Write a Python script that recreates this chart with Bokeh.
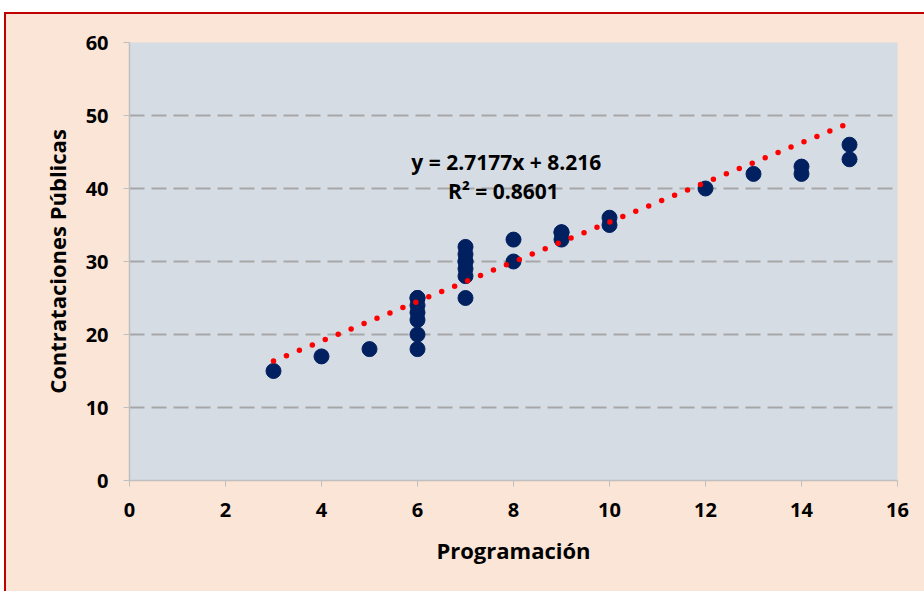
import numpy as np
from bokeh.plotting import figure
from bokeh.models import ColumnDataSource, Label, FixedTicker
from bokeh.embed import file_html
from bokeh.resources import INLINE

# Data
programacion = [3, 4, 5, 6, 6, 6, 6, 6, 6, 6, 7, 7, 7, 7, 7, 7, 7,
                8, 8, 9, 9, 9, 10, 10, 12, 13, 14, 14, 15, 15]
contrataciones = [15, 17, 18, 25, 25, 24, 23, 22, 20, 18, 32, 31, 30, 30, 29, 28, 25,
                  33, 30, 34, 34, 33, 36, 35, 40, 42, 43, 42, 46, 44]
slope = 2.7177
intercept = 8.216
r2 = 0.8601
x_ticks = [0, 2, 4, 6, 8, 10, 12, 14, 16]
y_ticks = [0, 10, 20, 30, 40, 50, 60]

FONT = "Open Sans"
PEACH = "#FBE5D6"
FRAME = "#D6DCE4"
RED = "#C00000"

p = figure(width=924, height=591, output_backend="svg", toolbar_location=None,
           x_range=(0, 16), y_range=(0, 60),
           min_border_left=129, min_border_right=27, min_border_top=42, min_border_bottom=111)
p.border_fill_color = None
p.background_fill_color = FRAME
p.outline_line_color = None
# chart area (peach with red border) offset inside a white page
p.styles = {
    "background": (f"linear-gradient({RED},{RED}) 5px 12px / 100% 2px no-repeat, "
                   f"linear-gradient({RED},{RED}) 4px 12px / 2px 100% no-repeat, "
                   f"linear-gradient({PEACH},{PEACH}) 6px 14px / 100% 100% no-repeat, "
                   "white"),
}

# grid
p.xgrid.grid_line_color = None
p.ygrid.grid_line_color = "#A6A6A6"
p.ygrid.grid_line_width = 2
p.ygrid.grid_line_dash = "15 7"
p.ygrid.ticker = FixedTicker(ticks=y_ticks[1:])

for ax, ticks in ((p.xaxis, x_ticks), (p.yaxis, y_ticks)):
    ax.ticker = FixedTicker(ticks=ticks)
    ax.axis_line_color = "#BFBFBF"
    ax.axis_line_width = 1.5
    ax.major_tick_line_color = "#BFBFBF"
    ax.major_tick_in = 0
    ax.major_tick_out = 6
    ax.minor_tick_line_color = None
    ax.major_label_text_font = FONT
    ax.major_label_text_font_style = "bold"
    ax.major_label_text_font_size = "20px"
    ax.major_label_text_color = "#000000"
    ax.axis_label_text_font = FONT
    ax.axis_label_text_font_style = "bold"
    ax.axis_label_text_font_size = "22px"
    ax.axis_label_text_color = "#000000"

p.xaxis.axis_label = "Programación"
p.yaxis.axis_label = "Contrataciones Públicas"
p.xaxis.major_label_standoff = 16
p.yaxis.major_label_standoff = 15
p.xaxis.axis_label_standoff = 15
p.yaxis.axis_label_standoff = 11

src = ColumnDataSource(dict(x=programacion, y=contrataciones))
p.scatter("x", "y", source=src, size=15, fill_color="#002060", line_color="#002060")

# trend line
tx = np.array([min(programacion), max(programacion)], dtype=float)
ty = slope * tx + intercept
p.line(tx, ty, line_color="#FF0000", line_width=5.5, line_dash="0 14", line_cap="round")

eq = Label(x=7.85, y=43.6, text=f"y = {slope}x + {intercept}", text_align="center",
           text_baseline="middle", text_font=FONT, text_font_style="bold",
           text_font_size="21px", text_color="#000000")
rr = Label(x=7.79, y=39.7, text=f"R² = {r2}", text_align="center",
           text_baseline="middle", text_font=FONT, text_font_style="bold",
           text_font_size="21px", text_color="#000000")
p.add_layout(eq)
p.add_layout(rr)

open("out.html", "w").write(file_html(p, INLINE))
